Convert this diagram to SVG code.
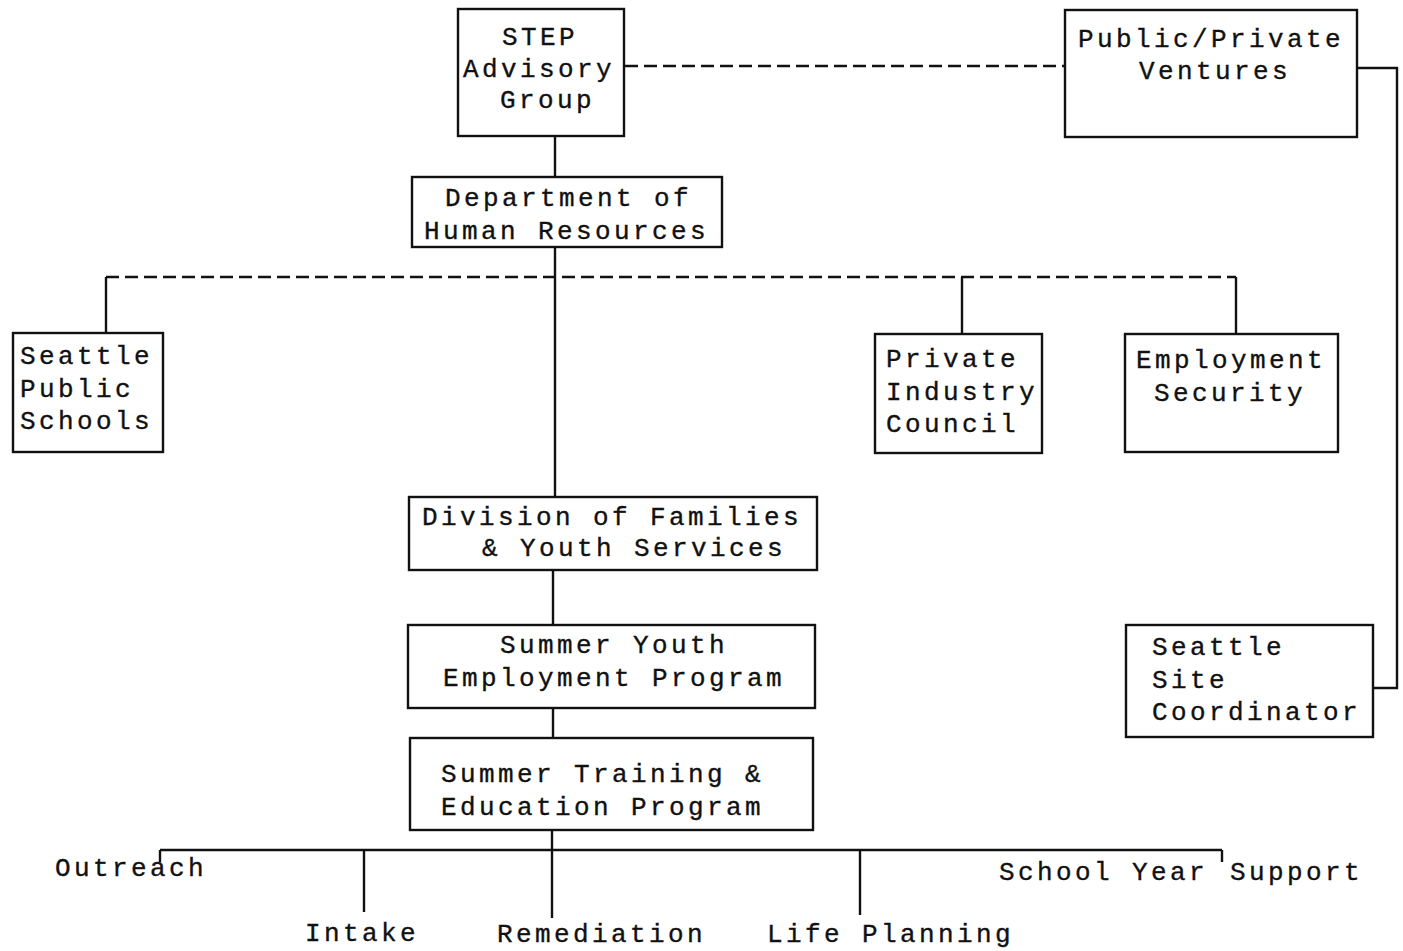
<svg xmlns="http://www.w3.org/2000/svg" width="1403" height="951" viewBox="0 0 1403 951">
<style>
rect.box{fill:#fff;stroke:#111;stroke-width:2.4}
text{font-family:"Liberation Mono","DejaVu Sans Mono",monospace;font-size:26px;letter-spacing:3.4px;fill:#111;stroke:#111;stroke-width:0.35}
.solid{stroke:#111;stroke-width:2.4;fill:none}
.dash{stroke:#111;stroke-width:2.4;fill:none;stroke-dasharray:13 6}
</style>
<rect width="1403" height="951" fill="#fff"/>
<g id="connectors">
<line class="solid" x1="555" y1="136" x2="555" y2="177"/>
<line class="dash" x1="625" y1="66" x2="1065" y2="66"/>
<polyline class="solid" points="1357,68 1397,68 1397,688 1373,688"/>
<line class="solid" x1="555" y1="247" x2="555" y2="497"/>
<polyline class="dash" points="106,277 1236,277"/>
<line class="solid" x1="106" y1="277" x2="106" y2="333"/>
<line class="solid" x1="962" y1="277" x2="962" y2="334"/>
<line class="solid" x1="1236" y1="277" x2="1236" y2="334"/>
<line class="solid" x1="553" y1="570" x2="553" y2="625"/>
<line class="solid" x1="553" y1="708" x2="553" y2="738"/>
<line class="solid" x1="552" y1="830" x2="552" y2="918"/>
<line class="solid" x1="160" y1="850" x2="1222" y2="850"/>
<line class="solid" x1="160" y1="850" x2="160" y2="862"/>
<line class="solid" x1="364" y1="850" x2="364" y2="912"/>
<line class="solid" x1="860" y1="850" x2="860" y2="915"/>
<line class="solid" x1="1222" y1="850" x2="1222" y2="862"/>
</g>
<g id="step-advisory">
<rect class="box" x="458" y="9" width="166" height="127"/>
<text x="502" y="45">STEP</text>
<text x="463" y="77">Advisory</text>
<text x="500" y="108">Group</text>
</g>
<g id="ppv">
<rect class="box" x="1065" y="10" width="292" height="127"/>
<text x="1078" y="47">Public/Private</text>
<text x="1139" y="79">Ventures</text>
</g>
<g id="dhr">
<rect class="box" x="412" y="177" width="310" height="70"/>
<text x="445" y="206">Department of</text>
<text x="424" y="239">Human Resources</text>
</g>
<g id="sps">
<rect class="box" x="13" y="333" width="150" height="119"/>
<text x="20" y="364">Seattle</text>
<text x="20" y="397">Public</text>
<text x="20" y="429">Schools</text>
</g>
<g id="pic">
<rect class="box" x="875" y="334" width="167" height="119"/>
<text x="886" y="367">Private</text>
<text x="886" y="400">Industry</text>
<text x="886" y="432">Council</text>
</g>
<g id="es">
<rect class="box" x="1125" y="334" width="213" height="118"/>
<text x="1136" y="368">Employment</text>
<text x="1154" y="401">Security</text>
</g>
<g id="dfys">
<rect class="box" x="409" y="497" width="408" height="73"/>
<text x="422" y="525">Division of Families</text>
<text x="482" y="556">&amp; Youth Services</text>
</g>
<g id="syep">
<rect class="box" x="408" y="625" width="407" height="83"/>
<text x="500" y="653">Summer Youth</text>
<text x="443" y="686">Employment Program</text>
</g>
<g id="step-program">
<rect class="box" x="410" y="738" width="403" height="92"/>
<text x="441" y="782">Summer Training &amp;</text>
<text x="441" y="815">Education Program</text>
</g>
<g id="ssc">
<rect class="box" x="1126" y="625" width="247" height="112"/>
<text x="1152" y="655">Seattle</text>
<text x="1152" y="688">Site</text>
<text x="1152" y="720">Coordinator</text>
</g>
<g id="outreach"><text x="55" y="876">Outreach</text></g>
<g id="intake"><text x="305" y="941">Intake</text></g>
<g id="remediation"><text x="497" y="942">Remediation</text></g>
<g id="life-planning"><text x="767" y="942">Life Planning</text></g>
<g id="school-year-support"><text x="999" y="880">School Year</text><text x="1230" y="880">Support</text></g>
</svg>
